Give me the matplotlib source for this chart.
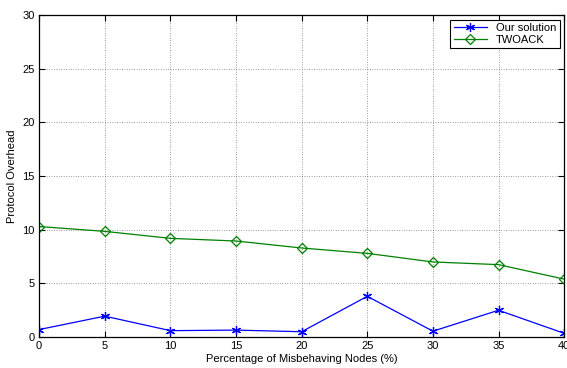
import matplotlib
matplotlib.use('Agg')
import matplotlib.pyplot as plt

plt.rcParams['font.family'] = ['Liberation Sans', 'DejaVu Sans']

# 数据
x_pct = [0, 5, 10, 15, 20, 25, 30, 35, 40]
our_solution = [0.7, 1.95, 0.6, 0.65, 0.5, 3.8, 0.55, 2.5, 0.35]
twoack = [10.3, 9.85, 9.2, 8.95, 8.3, 7.8, 7.0, 6.75, 5.4]
x_ticks = [0, 5, 10, 15, 20, 25, 30, 35, 40]
y_ticks = [0, 5, 10, 15, 20, 25, 30]

fig = plt.figure(figsize=(5.67, 3.68), dpi=100)
ax = fig.add_axes([0.069, 0.084, 0.926, 0.875])

ax.plot(x_pct, our_solution, color='blue', marker=(6, 2, 0), markersize=6.5, markeredgewidth=0.9,
        linewidth=0.9, label='Our solution')
ax.plot(x_pct, twoack, color='green', marker='D', markersize=5.5, markerfacecolor='none',
        markeredgewidth=0.9, linewidth=0.9, label='TWOACK')

ax.set_xlim(0, 40)
ax.set_ylim(0, 30)
ax.set_xticks(x_ticks)
ax.set_yticks(y_ticks)
ax.tick_params(direction='in', top=True, right=True, labelsize=8, length=4, pad=3)
ax.grid(True, linestyle=(0, (1, 2.5)), color='0.25', linewidth=0.5)
for s in ax.spines.values():
    s.set_linewidth(0.9)

ax.set_xlabel('Percentage of Misbehaving Nodes (%)', fontsize=8, labelpad=2)
ax.set_ylabel('Protocol Overhead', fontsize=8, labelpad=4)

leg = ax.legend(loc='upper right', fontsize=8, fancybox=False, edgecolor='black',
                framealpha=1, borderpad=0.3, handlelength=3, labelspacing=0.2,
                borderaxespad=0.4)
leg.get_frame().set_linewidth(0.8)

fig.savefig('out.png', dpi=100)
